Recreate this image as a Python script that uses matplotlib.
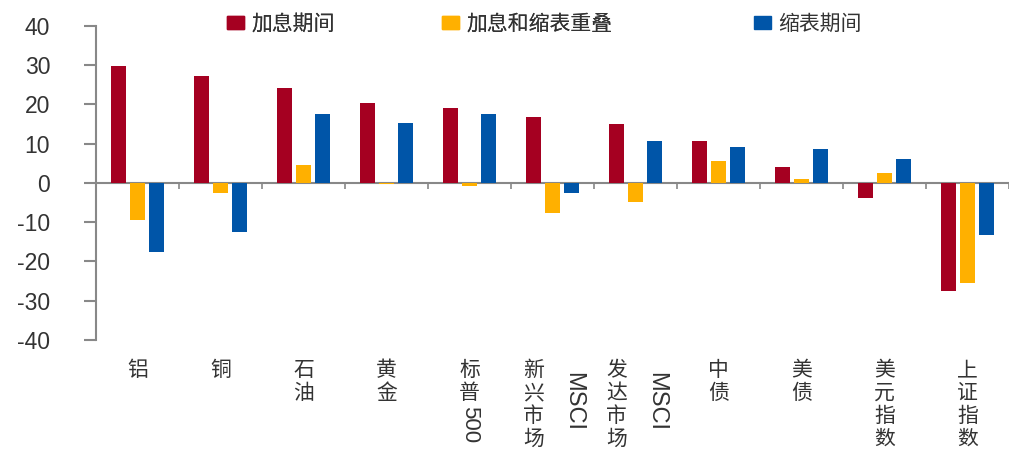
import matplotlib.pyplot as plt
from matplotlib.patches import Patch
import numpy as np

plt.rcParams['font.family'] = ['Noto Sans CJK SC', 'DejaVu Sans']

categories = ['铝', '铜', '石油', '黄金', '标普500', '新兴市场MSCI', '发达市场MSCI',
              '中债', '美债', '美元指数', '上证指数']
series_names = ['加息期间', '加息和缩表重叠', '缩表期间']
hike = [29.7, 27.3, 24.3, 20.4, 19.1, 16.9, 15.0, 10.8, 4.0, -3.7, -27.6]
overlap = [-9.5, -2.5, 4.5, -0.3, -0.7, -7.6, -4.8, 5.7, 1.0, 2.5, -25.4]
shrink = [-17.7, -12.6, 17.6, 15.4, 17.6, -2.5, 10.6, 9.2, 8.7, 6.1, -13.2]
yticks = [-40, -30, -20, -10, 0, 10, 20, 30, 40]

colors = ['#A50021', '#FFB000', '#0055A8']
W, H = 1009, 450

fig = plt.figure(figsize=(W / 100, H / 100), dpi=100)
ax = fig.add_axes([96 / W, 1 - 340 / H, 1 - 96 / W, (340 - 26) / H])

x = np.arange(len(categories))
for i, (vals, c) in enumerate(zip([hike, overlap, shrink], colors)):
    ax.bar(x + (i - 1) * 0.224, vals, width=0.18, color=c, zorder=3)

ax.set_ylim(-40, 40)
ax.set_xlim(-0.5, 10.42)
ax.set_yticks(yticks)
ax.set_yticklabels([str(v) for v in yticks], family='Liberation Sans', fontsize=16.5, color='#333333')
ax.tick_params(axis='y', direction='out', length=9, width=1.5, color='#888888', pad=24)

for s in ['top', 'right']:
    ax.spines[s].set_visible(False)
ax.spines['left'].set_color('#888888')
ax.spines['left'].set_linewidth(1.5)
ax.spines['bottom'].set_position(('data', 0))
ax.spines['bottom'].set_color('#888888')
ax.spines['bottom'].set_linewidth(1.5)
ax.set_xticks(x + 0.5)
ax.set_xticklabels([])
ax.tick_params(axis='x', direction='out', length=4, width=1.2, color='#888888')

# category labels: CJK stacked vertically, latin part rotated
tr = ax.get_xaxis_transform()
px = 1 / 314.0  # one pixel in axes fraction (vertical)
pitch = 23
for xi, name in zip(x, categories):
    cjk = [ch for ch in name if not ch.isascii()]
    latin = ''.join(ch for ch in name if ch.isascii())
    cx = xi
    if latin and not latin.isdigit():
        cx = xi - 0.23
        ax.text(xi + 0.25, -32 * px, latin, transform=tr, rotation=270, ha='center', va='top',
                family='Liberation Sans', fontsize=17, color='#333333')
    for k, ch in enumerate(cjk):
        ax.text(cx, -(19 + k * pitch) * px, ch, transform=tr, ha='center', va='top',
                fontsize=15, color='#333333')
    if latin and latin.isdigit():
        ax.text(cx, -(20 + len(cjk) * pitch) * px, latin, transform=tr, rotation=270,
                ha='center', va='top', family='Liberation Sans', fontsize=16, color='#333333')

# legend entries placed individually
leg_x = [227, 442, 754]
legs = []
for name, c, lx in zip(series_names, colors, leg_x):
    lg = fig.legend(handles=[Patch(color=c)], labels=[name], loc='center left',
                    bbox_to_anchor=(lx / W, 1 - 24 / H), frameon=False, fontsize=15,
                    handlelength=0.8, handleheight=0.6, handletextpad=0.35,
                    borderpad=0, borderaxespad=0, labelcolor='#333333')
    legs.append(lg)
for lg in legs[:-1]:
    fig.add_artist(lg)

fig.savefig('out.png', dpi=100)
